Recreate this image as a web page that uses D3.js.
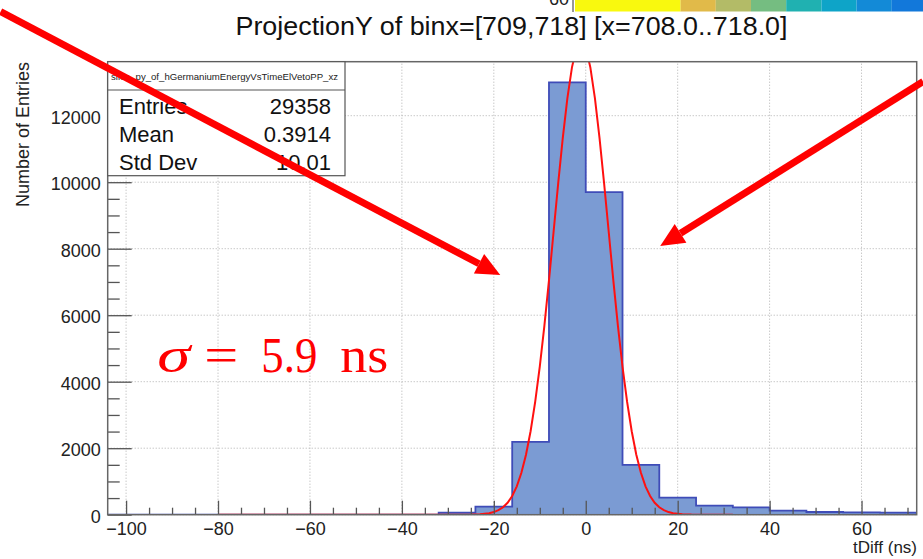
<!DOCTYPE html>
<html>
<head>
<meta charset="utf-8">
<script src="https://cdn.jsdelivr.net/npm/d3@7"></script>
<style>
  body { margin: 0; background: #fff; }
  svg { display: block; font-family: "Liberation Sans", Arial, sans-serif; }
</style>
</head>
<body>
<div id="container"></div>
<script>
// histogram bins (lower edges, width 8 ns) and counts
const binEdges = [-104, -96, -88, -80, -72, -64, -56, -48, -40, -32, -24, -16, -8, 0, 8, 16, 24, 32, 40, 48, 56, 64];
const binWidth = 8;
const binCounts = [0, 0, 0, 0, 0, 0, 0, 0, 0, 60, 240, 2190, 13000, 9700, 1500, 511, 271, 222, 120, 81, 72, 60];

// red fit curve
const fitX = [-80, -27, -25, -23, -21, -20, -19, -18, -17, -16, -15, -14, -13, -12, -11, -10, -9, -8, -7, -6, -5, -4, -3, -2, -1,
  0, 1, 2, 3, 4, 5, 6, 7, 8, 9, 10, 11, 12, 13, 14, 15, 16, 17, 18, 19, 21, 23, 25, 32];
const fitY = [0, 1, 4, 14, 46, 79, 136, 223, 359, 562, 853, 1260, 1803, 2511, 3393, 4450, 5681, 7048, 8502, 9956, 11323, 12524, 13455, 14047, 14250,
  14047, 13455, 12524, 11323, 9956, 8502, 7048, 5681, 4450, 3393, 2511, 1803, 1260, 853, 562, 359, 223, 136, 79, 46, 14, 4, 1, 0];

// axes
const xMajor = [-100, -80, -60, -40, -20, 0, 20, 40, 60];
const yMajor = [0, 2000, 4000, 6000, 8000, 10000, 12000];

// stats box
const statNames = ["Entries", "Mean", "Std Dev"];
const statValues = ["29358", "0.3914", "10.01"];

// palette strip at the top (cut off)
const paletteColors = ["#f9f90e", "#e1ba49", "#b3bb67", "#75bd81", "#20b1b1", "#0ea4c8", "#138ad7", "#1278da"];
const paletteSpan = [3, 1, 1, 1, 1, 1, 1, 1];

// annotation arrows in data units: [x0, y0, x1, y1]
const arrows = [[-127.3, 15130, -18.6, 7210], [73.4, 13030, 16.2, 8080]];

const w = 923;
const h = 559;

const xScale = d3.scaleLinear().domain([-104, 72]).range([107.7, 916.7]);
const yScale = d3.scaleLinear().domain([0, 13624]).range([514.7, 61.7]);
const x0 = xScale.range()[0], x1 = xScale.range()[1];
const yB = yScale.range()[0], yT = yScale.range()[1];

let svg = d3.select("#container").append("svg").attr("width", w).attr("height", h);

svg.append("clipPath").attr("id", "frame")
  .append("rect").attr("x", x0).attr("y", yT).attr("width", x1 - x0).attr("height", yB - yT);

//palette strip
let px = 575;
const segW = 35.2;
paletteColors.forEach((c, i) => {
  svg.append("rect").attr("x", px).attr("y", 0).attr("width", segW * paletteSpan[i]).attr("height", 11.5).attr("fill", c);
  px += segW * paletteSpan[i];
});
svg.append("line").attr("x1", 573).attr("x2", 573).attr("y1", 0).attr("y2", 12).attr("stroke", "#333");
svg.append("text").attr("x", 569).attr("y", 5).attr("text-anchor", "end").attr("font-size", 18).attr("fill", "#222").text("60");

//title
svg.append("text").attr("x", 511.5).attr("y", 35).attr("text-anchor", "middle")
  .attr("font-size", 26).attr("textLength", 552).attr("lengthAdjust", "spacingAndGlyphs")
  .attr("fill", "#111").text("ProjectionY of binx=[709,718] [x=708.0..718.0]");

//grid
const grid = svg.append("g").attr("stroke", "#b0b0b0").attr("stroke-width", 1).attr("stroke-dasharray", "1,2");
xMajor.forEach((v) => {
  grid.append("line").attr("x1", xScale(v)).attr("x2", xScale(v)).attr("y1", yB).attr("y2", yT);
});
yMajor.forEach((v) => {
  grid.append("line").attr("x1", x0).attr("x2", x1).attr("y1", yScale(v)).attr("y2", yScale(v));
});

//histogram
let pts = [[binEdges[0], 0]];
binEdges.forEach((e, i) => {
  pts.push([e, binCounts[i]]);
  pts.push([e + binWidth, binCounts[i]]);
});
pts.push([binEdges[binEdges.length - 1] + binWidth, 0]);
svg.append("path")
  .attr("clip-path", "url(#frame)")
  .attr("d", d3.line().x((d) => xScale(d[0])).y((d) => yScale(d[1]))(pts))
  .attr("fill", "#7b9bd3")
  .attr("stroke", "#3f4cb8")
  .attr("stroke-width", 1.8);

//fit
svg.append("path")
  .attr("clip-path", "url(#frame)")
  .attr("d", d3.line().x((d, i) => xScale(fitX[i])).y((d) => yScale(d))(fitY))
  .attr("fill", "none")
  .attr("stroke", "#ff1010")
  .attr("stroke-width", 2);

//Axis
const x_axis = d3.axisBottom(xScale).tickValues(d3.range(-100, 72, 5))
  .tickSize(0).tickFormat((d) => (xMajor.includes(d) ? d3.format("")(d) : ""));
let gx = svg.append("g").attr("transform", "translate(0," + yB + ")").call(x_axis);
gx.select(".domain").remove();
gx.selectAll(".tick line").attr("y2", (d) => (xMajor.includes(d) ? -14 : -7)).attr("stroke", "#555").attr("stroke-width", 1.3);
gx.selectAll(".tick text").attr("y", 8).attr("dy", "0.71em").attr("font-size", 18).attr("font-family", "Liberation Sans, Arial").attr("fill", "#222");

const y_axis = d3.axisLeft(yScale).tickValues(d3.range(0, 13624, 500))
  .tickSize(0).tickFormat((d) => (yMajor.includes(d) ? d : ""));
let gy = svg.append("g").attr("transform", "translate(" + x0 + ",0)").call(y_axis);
gy.select(".domain").remove();
gy.selectAll(".tick line").attr("x2", (d) => (yMajor.includes(d) ? 24 : 12)).attr("stroke", "#555").attr("stroke-width", 1.3);
gy.selectAll(".tick text").attr("x", -7).attr("dy", "0.42em").attr("font-size", 18).attr("font-family", "Liberation Sans, Arial").attr("fill", "#222");

//frame
svg.append("rect").attr("x", x0).attr("y", yT).attr("width", x1 - x0).attr("height", yB - yT)
  .attr("fill", "none").attr("stroke", "#666").attr("stroke-width", 1.5);

//axis titles
svg.append("text").attr("x", 917).attr("y", 553).attr("text-anchor", "end")
  .attr("font-size", 17).attr("fill", "#222").text("tDiff (ns)");
svg.append("text").attr("transform", "translate(29,62) rotate(-90)").attr("text-anchor", "end")
  .attr("font-size", 18).attr("fill", "#222").text("Number of Entries");

//stats box
const sb = { x: 107.7, y: 61.7, w: 237.3, h: 114 };
svg.append("rect").attr("x", sb.x).attr("y", sb.y).attr("width", sb.w).attr("height", sb.h)
  .attr("fill", "#fff").attr("stroke", "#555").attr("stroke-width", 1.2);
svg.append("line").attr("x1", sb.x).attr("x2", sb.x + sb.w).attr("y1", 90).attr("y2", 90).attr("stroke", "#555").attr("stroke-width", 1.2);
svg.append("text").attr("x", 111).attr("y", 79.5).attr("font-size", 9.5).attr("textLength", 227)
  .attr("lengthAdjust", "spacingAndGlyphs").attr("fill", "#222").text("slice_py_of_hGermaniumEnergyVsTimeElVetoPP_xz");
statNames.forEach((s, i) => {
  svg.append("text").attr("x", 119).attr("y", 114 + i * 28).attr("font-size", 22).attr("fill", "#111").text(s);
  svg.append("text").attr("x", 331).attr("y", 114 + i * 28).attr("text-anchor", "end").attr("font-size", 22).attr("fill", "#111").text(statValues[i]);
});

//sigma label
const sx = xScale(-93.2), sy = yScale(4300);
const sig = svg.append("text").attr("y", sy)
  .attr("font-family", "Liberation Serif, DejaVu Serif, serif").attr("font-size", 50).attr("fill", "#ff0000");
sig.append("tspan").attr("x", sx).attr("font-style", "italic").attr("textLength", 33).attr("lengthAdjust", "spacingAndGlyphs").text("σ");
sig.append("tspan").attr("x", sx + 47).attr("textLength", 34).attr("lengthAdjust", "spacingAndGlyphs").text("=");
sig.append("tspan").attr("x", sx + 104).attr("textLength", 56).attr("lengthAdjust", "spacingAndGlyphs").text("5.9");
sig.append("tspan").attr("x", sx + 183).attr("textLength", 48).attr("lengthAdjust", "spacingAndGlyphs").text("ns");

//arrows
arrows.forEach((a) => {
  const ax0 = xScale(a[0]), ay0 = yScale(a[1]), ax1 = xScale(a[2]), ay1 = yScale(a[3]);
  const ang = Math.atan2(ay1 - ay0, ax1 - ax0);
  const len = 24, hw = 11;
  const bx = ax1 - len * Math.cos(ang), by = ay1 - len * Math.sin(ang);
  svg.append("line").attr("x1", ax0).attr("y1", ay0).attr("x2", bx).attr("y2", by)
    .attr("stroke", "#ff0000").attr("stroke-width", 7);
  svg.append("path")
    .attr("d", "M" + ax1 + "," + ay1 +
      "L" + (bx + hw * Math.sin(ang)) + "," + (by - hw * Math.cos(ang)) +
      "L" + (bx - hw * Math.sin(ang)) + "," + (by + hw * Math.cos(ang)) + "Z")
    .attr("fill", "#ff0000");
});
</script>
</body>
</html>
